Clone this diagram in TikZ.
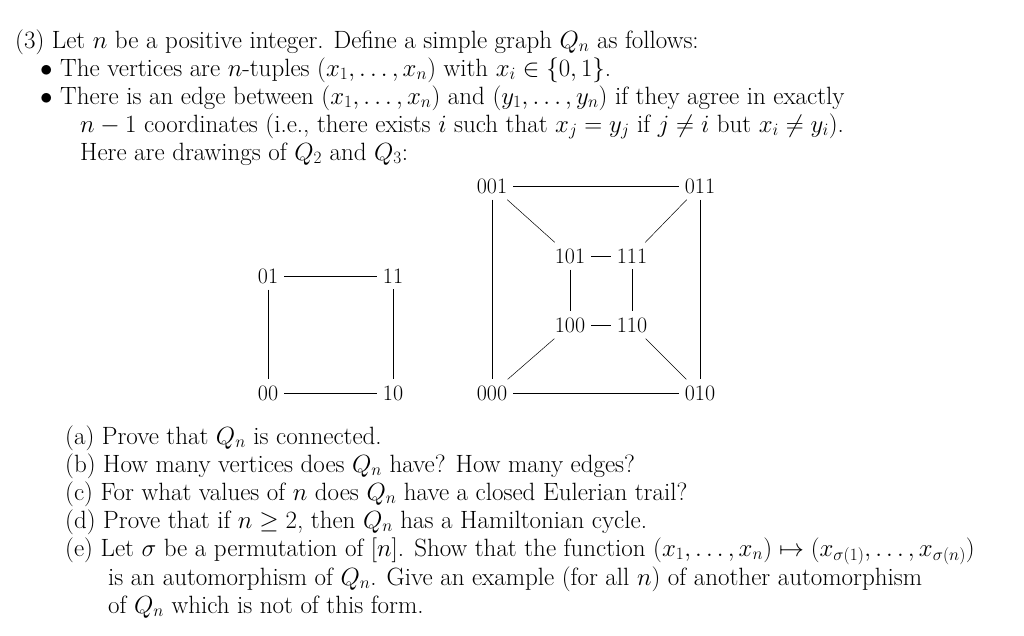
\documentclass[tikz,border=0pt]{standalone}
\usepackage{amsmath,amssymb}
\begin{document}
\begin{tikzpicture}[x=1pt,y=-1pt,
  ln/.style={anchor=base west,inner sep=0pt,font=\fontsize{25}{29}\selectfont},
  v/.style={inner sep=6pt,font=\fontsize{22}{24}\selectfont},
  e/.style={draw,line width=0.5pt}]
\useasboundingbox (0,0) rectangle (1024,635);
\node[ln] (l1) at (15,48) {(3) Let $n$ be a positive integer. Define a simple graph $Q_n$ as follows:};
\node[ln] (b1) at (40,76) {$\bullet$\ The vertices are $n$-tuples $(x_1,\ldots,x_n)$ with $x_i\in\{0,1\}$.};
\node[ln] (b2) at (40,104) {$\bullet$\ There is an edge between $(x_1,\ldots,x_n)$ and $(y_1,\ldots,y_n)$ if they agree in exactly};
\node[ln] (b3) at (80,132) {$n-1$ coordinates (i.e., there exists $i$ such that $x_j=y_j$ if $j\neq i$ but $x_i\neq y_i$).};
\node[ln] (h) at (80,160) {Here are drawings of $Q_2$ and $Q_3$:};
% Q2
\node[v] (a01) at (268,276) {01};
\node[v] (a11) at (393,276) {11};
\node[v] (a00) at (268,393) {00};
\node[v] (a10) at (393,393) {10};
\draw[e] (a01)--(a11); \draw[e] (a00)--(a10); \draw[e] (a01)--(a00); \draw[e] (a11)--(a10);
% Q3
\node[v] (c001) at (492,186) {001};
\node[v] (c011) at (700,186) {011};
\node[v] (c000) at (492,393) {000};
\node[v] (c010) at (700,393) {010};
\node[v] (c101) at (570,256) {101};
\node[v] (c111) at (632,256) {111};
\node[v] (c100) at (570,325) {100};
\node[v] (c110) at (632,325) {110};
\draw[e] (c001)--(c011); \draw[e] (c000)--(c010); \draw[e] (c001)--(c000); \draw[e] (c011)--(c010);
\draw[e] (c101)--(c111); \draw[e] (c100)--(c110); \draw[e] (c101)--(c100); \draw[e] (c111)--(c110);
\draw[e] (c001)--(c101); \draw[e] (c011)--(c111); \draw[e] (c000)--(c100); \draw[e] (c010)--(c110);
% parts
\node[ln] (pa) at (65,444) {(a) Prove that $Q_n$ is connected.};
\node[ln] (pb) at (65,472) {(b) How many vertices does $Q_n$ have? How many edges?};
\node[ln] (pc) at (65,500) {(c) For what values of $n$ does $Q_n$ have a closed Eulerian trail?};
\node[ln] (pd) at (65,528) {(d) Prove that if $n\geq 2$, then $Q_n$ has a Hamiltonian cycle.};
\node[ln] (pe) at (65,556) {(e) Let $\sigma$ be a permutation of $[n]$. Show that the function $(x_1,\ldots,x_n)\mapsto(x_{\sigma(1)},\ldots,x_{\sigma(n)})$};
\node[ln] (pe2) at (108,585) {is an automorphism of $Q_n$. Give an example (for all $n$) of another automorphism};
\node[ln] (pe3) at (108,613) {of $Q_n$ which is not of this form.};
\end{tikzpicture}
\end{document}
